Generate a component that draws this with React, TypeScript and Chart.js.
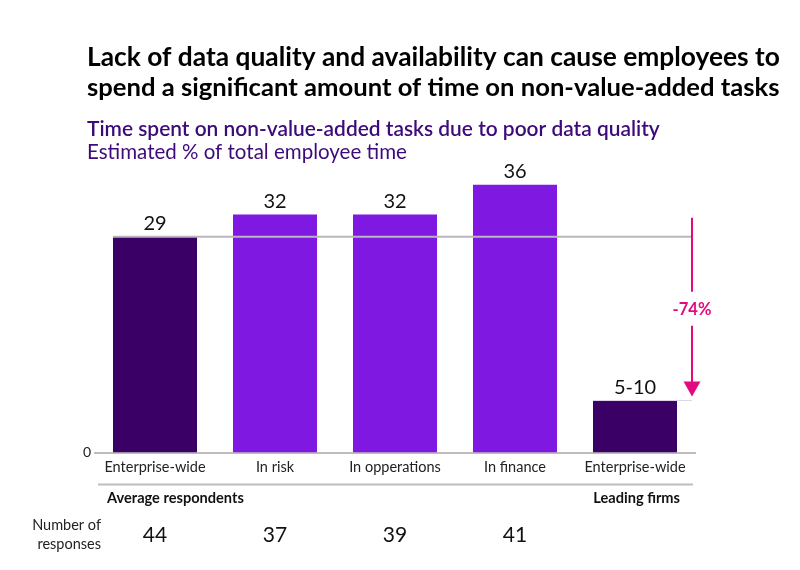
import React, { useEffect, useRef } from "react";
import { Chart, registerables } from "chart.js";

Chart.register(...registerables);

const categories = ["Enterprise-wide", "In risk", "In opperations", "In finance", "Enterprise-wide"];
const values = [29, 32, 32, 36, 7];
const valueLabels = ["29", "32", "32", "36", "5-10"];
const responses = ["44", "37", "39", "41", ""];
const barColors = ["#3b0066", "#7f18e0", "#7f18e0", "#7f18e0", "#3b0066"];
const referenceValue = 29;
const changeLabel = "-74%";
const titleLines = [
  "Lack of data quality and availability can cause employees to",
  "spend a significant amount of time on non-value-added tasks",
];
const subtitleLines = ["Time spent on non-value-added tasks due to poor data quality", "Estimated % of total employee time"];
const groupLabels = ["Average respondents", "Leading firms"];
const responsesLabel = ["Number of", "responses"];

const FONT = "Lato, 'Noto Sans', sans-serif";

function fitText(ctx: any, text: string, weight: string, base: number, width: number) {
  ctx.font = `${weight} ${base}px ${FONT}`;
  const w = ctx.measureText(text).width;
  const size = (base * width) / w;
  ctx.font = `${weight} ${size}px ${FONT}`;
}

const overlay = {
  id: "overlay",
  afterDatasetsDraw(chart: any) {
    const { ctx, chartArea } = chart;
    const y = chart.scales.y;
    const meta = chart.getDatasetMeta(0);
    ctx.save();

    // reference line
    const refY = y.getPixelForValue(referenceValue);
    const arrowX = chartArea.right - 3;
    const b0 = meta.data[0];
    ctx.strokeStyle = "#b9b7bd";
    ctx.lineWidth = 2;
    ctx.beginPath();
    ctx.moveTo(b0.x - b0.width / 2, refY);
    ctx.lineTo(arrowX, refY);
    ctx.stroke();

    // faint line at last bar top
    const b4 = meta.data[4];
    ctx.strokeStyle = "#dcd6ee";
    ctx.lineWidth = 1;
    ctx.beginPath();
    ctx.moveTo(b4.x - b4.width / 2, b4.y);
    ctx.lineTo(arrowX, b4.y);
    ctx.stroke();

    // arrow
    const pink = "#e5097f";
    const topY = refY - 19;
    const tipY = b4.y - 4;
    ctx.strokeStyle = pink;
    ctx.lineWidth = 2;
    ctx.beginPath();
    ctx.moveTo(arrowX, topY);
    ctx.lineTo(arrowX, topY + 74);
    ctx.moveTo(arrowX, topY + 108);
    ctx.lineTo(arrowX, tipY - 12);
    ctx.stroke();
    ctx.fillStyle = pink;
    ctx.beginPath();
    ctx.moveTo(arrowX - 8.5, tipY - 15);
    ctx.lineTo(arrowX + 8.5, tipY - 15);
    ctx.lineTo(arrowX, tipY);
    ctx.closePath();
    ctx.fill();
    ctx.font = `bold 16.5px ${FONT}`;
    ctx.textAlign = "center";
    ctx.textBaseline = "middle";
    ctx.fillText(changeLabel, arrowX, topY + 92);

    // value labels
    ctx.fillStyle = "#111";
    ctx.font = `20px ${FONT}`;
    ctx.textBaseline = "middle";
    meta.data.forEach((bar: any, i: number) => {
      ctx.fillText(valueLabels[i], bar.x, bar.y - 13);
    });

    // zero label
    ctx.font = `14px ${FONT}`;
    ctx.textAlign = "center";
    ctx.fillStyle = "#222";
    ctx.fillText("0", chartArea.left - 8, y.getPixelForValue(0));

    // lower separator
    const sepY = y.getPixelForValue(0) + 32;
    ctx.strokeStyle = "#bdbdbd";
    ctx.lineWidth = 2;
    ctx.beginPath();
    ctx.moveTo(chartArea.left + 3, sepY);
    ctx.lineTo(chartArea.right - 2, sepY);
    ctx.stroke();

    // group labels
    ctx.fillStyle = "#111";
    ctx.font = `bold 14.6px ${FONT}`;
    ctx.textAlign = "left";
    ctx.fillText(groupLabels[0], chartArea.left + 12, sepY + 14);
    ctx.textAlign = "right";
    ctx.fillText(groupLabels[1], chartArea.right - 15, sepY + 14);

    // responses
    ctx.font = `14.5px ${FONT}`;
    ctx.textAlign = "right";
    ctx.fillStyle = "#222";
    ctx.fillText(responsesLabel[0], 101, sepY + 41);
    ctx.fillText(responsesLabel[1], 101, sepY + 60);
    ctx.font = `21px ${FONT}`;
    ctx.textAlign = "center";
    ctx.fillStyle = "#111";
    meta.data.forEach((bar: any, i: number) => {
      if (responses[i]) ctx.fillText(responses[i], bar.x, sepY + 51);
    });

    // titles
    ctx.textAlign = "left";
    ctx.fillStyle = "#000";
    fitText(ctx, titleLines[0], "bold", 23, 693);
    ctx.fillText(titleLines[0], 87, 58);
    fitText(ctx, titleLines[1], "bold", 23, 693);
    ctx.fillText(titleLines[1], 87, 88);
    ctx.fillStyle = "#3d0a7a";
    fitText(ctx, subtitleLines[0], "600", 19, 573);
    ctx.fillText(subtitleLines[0], 87, 129);
    fitText(ctx, subtitleLines[1], "normal", 18, 320);
    ctx.fillText(subtitleLines[1], 87, 152);

    ctx.restore();
  },
};

export default function App() {
  const ref = useRef<HTMLCanvasElement>(null);
  useEffect(() => {
    document.body.style.margin = "0";
    const chart = new Chart(ref.current!, {
      type: "bar",
      data: {
        labels: categories,
        datasets: [
          {
            data: values,
            backgroundColor: barColors,
            borderWidth: 0,
            barPercentage: 0.7,
            categoryPercentage: 1,
          },
        ],
      },
      options: {
        animation: false,
        responsive: false,
        layout: { padding: { left: 95, right: 105, top: 155, bottom: 88 } },
        plugins: { legend: { display: false }, tooltip: { enabled: false }, title: { display: false } },
        scales: {
          x: {
            grid: { display: false, drawTicks: false },
            border: { display: true, color: "#bdbdbd", width: 2 },
            ticks: { color: "#222", font: { family: FONT, size: 14.5 }, padding: 6, maxRotation: 0 },
          },
          y: {
            display: false,
            min: 0,
            max: 40,
          },
        },
      },
      plugins: [overlay],
    });
    return () => chart.destroy();
  }, []);
  return <canvas ref={ref} width={800} height={570} style={{ display: "block", width: 800, height: 570 }} />;
}
